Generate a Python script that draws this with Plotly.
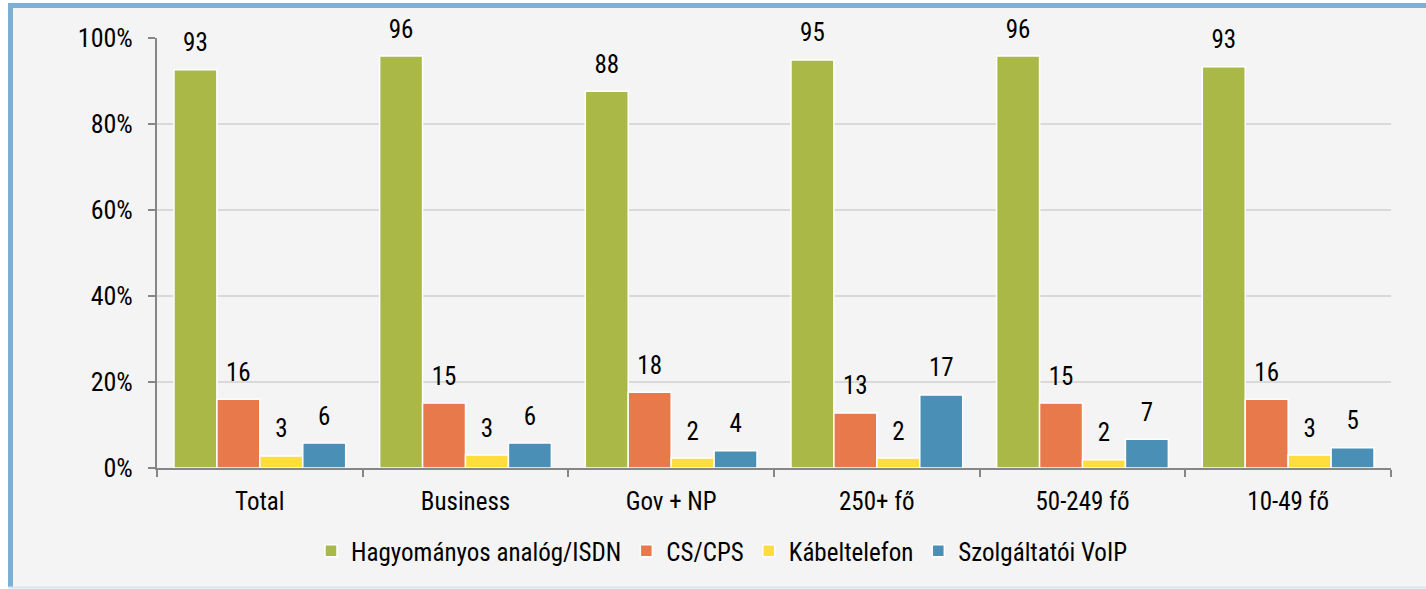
import plotly.graph_objects as go

categories = ["Total", "Business", "Gov + NP", "250+ fő", "50-249 fő", "10-49 fő"]
series_names = ["Hagyományos analóg/ISDN", "CS/CPS", "Kábeltelefon", "Szolgáltatói VoIP"]
hagyomanyos = [92.6, 95.8, 87.6, 94.9, 95.8, 93.3]
cs_cps = [16.0, 15.1, 17.6, 12.8, 15.1, 16.0]
kabeltelefon = [2.8, 3.0, 2.3, 2.3, 1.9, 3.0]
voip = [5.8, 5.8, 4.0, 17.0, 6.7, 4.7]
y_tickvals = [0, 20, 40, 60, 80, 100]
y_ticktext = ["0%", "20%", "40%", "60%", "80%", "100%"]

colors = ["#A9B847", "#E8794A", "#FFDD3C", "#4A8FB5"]
series = [hagyomanyos, cs_cps, kabeltelefon, voip]

FONT = "Roboto Condensed, Liberation Sans, Arial, sans-serif"
FS = 25

W, H = 1426, 589
L, R, T, B = 157, 35, 38, 121
pw, ph = W - L - R, H - T - B

def px_x(p):
    return (p - L) / pw

def px_y(p):
    return (H - B - p) / ph

fig = go.Figure()
for name, vals, col in zip(series_names, series, colors):
    fig.add_trace(go.Bar(
        x=categories, y=vals, name=name,
        marker=dict(color=col, line=dict(color="white", width=1.5)),
    ))
for name, vals in zip(series_names, series):
    fig.add_trace(go.Scatter(
        x=categories, y=vals, mode="text+markers",
        marker=dict(size=18, opacity=0),
        text=[f"{v:.0f}" for v in vals], textposition="top center",
        textfont=dict(family=FONT, size=FS, color="#000"),
        showlegend=False, hoverinfo="skip", cliponaxis=False,
    ))

shapes = [
    dict(type="rect", xref="paper", yref="paper", layer="below",
         x0=px_x(10), x1=px_x(1440), y0=px_y(587), y1=px_y(5),
         fillcolor="#F4F4F4", line=dict(width=0)),
    dict(type="line", xref="paper", yref="paper", layer="below",
         x0=px_x(10.5), x1=px_x(10.5), y0=px_y(587), y1=px_y(3),
         line=dict(color="#7BAFD4", width=5)),
    dict(type="line", xref="paper", yref="paper", layer="below",
         x0=px_x(8), x1=px_x(1440), y0=px_y(5.5), y1=px_y(5.5),
         line=dict(color="#7BAFD4", width=5)),
    dict(type="line", xref="paper", yref="paper", layer="below",
         x0=px_x(8), x1=px_x(1440), y0=px_y(587.5), y1=px_y(587.5),
         line=dict(color="#D5E6F1", width=2)),
]

fig.update_layout(
    width=W, height=H,
    margin=dict(l=L, r=R, t=T, b=B, autoexpand=False),
    paper_bgcolor="white", plot_bgcolor="#F4F4F4",
    barmode="group", bargap=0.165, bargroupgap=0,
    scattermode="group", scattergap=0.165,
    font=dict(family=FONT, size=FS, color="#000"),
    showlegend=True,
    legend=dict(orientation="h", x=px_x(722), xanchor="center", y=px_y(551), yanchor="middle",
                font=dict(family=FONT, size=FS), bgcolor="rgba(0,0,0,0)",
                itemwidth=30, traceorder="normal"),
    shapes=shapes,
    xaxis=dict(type="category", showgrid=False, showline=True, linecolor="#868686", linewidth=2,
               ticks="outside", tickson="boundaries", ticklen=7, tickcolor="#868686", tickwidth=2,
               tickfont=dict(family=FONT, size=FS), ticklabelstandoff=10),
    yaxis=dict(range=[0, 100], tickvals=y_tickvals, ticktext=y_ticktext,
               showgrid=True, gridcolor="#D9D9D9", gridwidth=2,
               showline=True, linecolor="#868686", linewidth=2,
               ticks="outside", ticklen=7, tickcolor="#868686", tickwidth=2,
               tickfont=dict(family=FONT, size=26), zeroline=False, ticklabelstandoff=10),
)

fig.write_html("out.html", config={"displayModeBar": False},
               post_script="document.body.style.margin='0'")
